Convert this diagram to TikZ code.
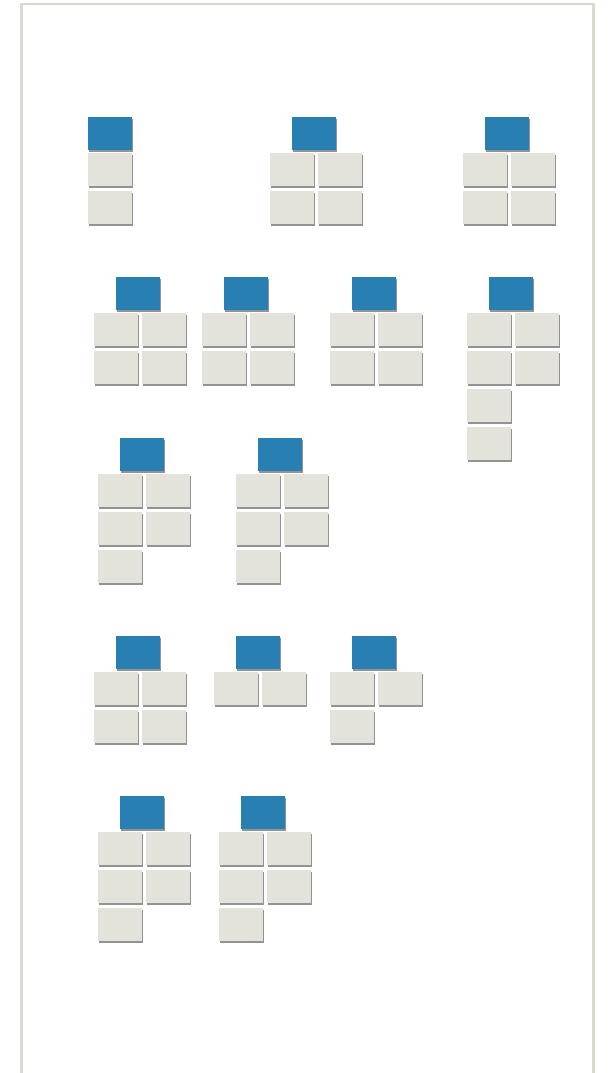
\documentclass[tikz,border=0pt]{standalone}
\usetikzlibrary{shadows}
\definecolor{hdblue}{RGB}{40,127,177}
\definecolor{cellgrey}{RGB}{227,227,220}
\definecolor{framegrey}{RGB}{216,217,207}

\begin{document}
\begin{tikzpicture}[
  x=1pt, y=-1pt,
  tile/.style={anchor=north west, minimum width=44pt, minimum height=33pt,
               inner sep=0pt, outer sep=0pt,
               drop shadow={shadow xshift=0.8pt, shadow yshift=-2.4pt,
                            fill=black!50, opacity=0.85}},
  head/.style={tile, fill=hdblue},
  cell/.style={tile, fill=cellgrey},
  frame/.style={draw=framegrey, line width=2.4pt},
]
\useasboundingbox (0,0) rectangle (613,1073);
\draw[frame] (21.6,1073) |- (593.5,4.3) -- (593.5,1073);

% ---- first row ----
\node[head] (h1) at (88,117) {};
\node[cell] (c1a) at (88,153) {};
\node[cell] (c1b) at (88,191) {};

\node[head] (h2) at (292,117) {};
\node[cell] (c2a) at (270,153) {};
\node[cell] (c2b) at (318,153) {};
\node[cell] (c2c) at (270,191) {};
\node[cell] (c2d) at (318,191) {};

\node[head] (h3) at (485,117) {};
\node[cell] (c3a) at (463,153) {};
\node[cell] (c3b) at (511,153) {};
\node[cell] (c3c) at (463,191) {};
\node[cell] (c3d) at (511,191) {};

% ---- second row ----
\node[head] (h4) at (116,277) {};
\node[cell] (c4a) at (94,313) {};
\node[cell] (c4b) at (142,313) {};
\node[cell] (c4c) at (94,351) {};
\node[cell] (c4d) at (142,351) {};

\node[head] (h5) at (224,277) {};
\node[cell] (c5a) at (202,313) {};
\node[cell] (c5b) at (250,313) {};
\node[cell] (c5c) at (202,351) {};
\node[cell] (c5d) at (250,351) {};

\node[head] (h6) at (352,277) {};
\node[cell] (c6a) at (330,313) {};
\node[cell] (c6b) at (378,313) {};
\node[cell] (c6c) at (330,351) {};
\node[cell] (c6d) at (378,351) {};

\node[head] (h7) at (489,277) {};
\node[cell] (c7a) at (467,313) {};
\node[cell] (c7b) at (515,313) {};
\node[cell] (c7c) at (467,351) {};
\node[cell] (c7d) at (515,351) {};
\node[cell] (c7e) at (467,389) {};
\node[cell] (c7f) at (467,427) {};

% ---- third row ----
\node[head] (h8) at (120,438) {};
\node[cell] (c8a) at (98,474) {};
\node[cell] (c8b) at (146,474) {};
\node[cell] (c8c) at (98,512) {};
\node[cell] (c8d) at (146,512) {};
\node[cell] (c8e) at (98,550) {};

\node[head] (h9) at (258,438) {};
\node[cell] (c9a) at (236,474) {};
\node[cell] (c9b) at (284,474) {};
\node[cell] (c9c) at (236,512) {};
\node[cell] (c9d) at (284,512) {};
\node[cell] (c9e) at (236,550) {};

% ---- fourth row ----
\node[head] (h10) at (116,636) {};
\node[cell] (c10a) at (94,672) {};
\node[cell] (c10b) at (142,672) {};
\node[cell] (c10c) at (94,710) {};
\node[cell] (c10d) at (142,710) {};

\node[head] (h11) at (236,636) {};
\node[cell] (c11a) at (214,672) {};
\node[cell] (c11b) at (262,672) {};

\node[head] (h12) at (352,636) {};
\node[cell] (c12a) at (330,672) {};
\node[cell] (c12b) at (378,672) {};
\node[cell] (c12c) at (330,710) {};

% ---- fifth row ----
\node[head] (h13) at (120,796) {};
\node[cell] (c13a) at (98,832) {};
\node[cell] (c13b) at (146,832) {};
\node[cell] (c13c) at (98,870) {};
\node[cell] (c13d) at (146,870) {};
\node[cell] (c13e) at (98,908) {};

\node[head] (h14) at (241,796) {};
\node[cell] (c14a) at (219,832) {};
\node[cell] (c14b) at (267,832) {};
\node[cell] (c14c) at (219,870) {};
\node[cell] (c14d) at (267,870) {};
\node[cell] (c14e) at (219,908) {};
\end{tikzpicture}
\end{document}
